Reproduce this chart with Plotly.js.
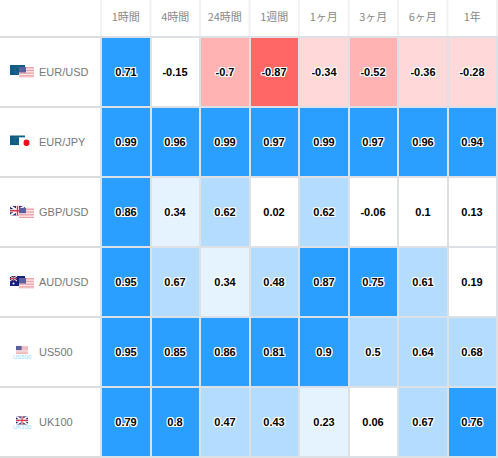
<!DOCTYPE html>
<html>
<head>
<meta charset="utf-8">
<script src="https://cdn.plot.ly/plotly-3.0.1.min.js"></script>
<style>html,body{margin:0;padding:0;background:#fff}#c{width:498px;height:458px}</style>
</head>
<body>
<div id="c"></div>
<script>
const periods = ['1時間','4時間','24時間','1週間','1ヶ月','3ヶ月','6ヶ月','1年'];
const instruments = ['EUR/USD','EUR/JPY','GBP/USD','AUD/USD','US500','UK100'];
const eurusd = [0.71,-0.15,-0.7,-0.87,-0.34,-0.52,-0.36,-0.28];
const eurjpy = [0.99,0.96,0.99,0.97,0.99,0.97,0.96,0.94];
const gbpusd = [0.86,0.34,0.62,0.02,0.62,-0.06,0.1,0.13];
const audusd = [0.95,0.67,0.34,0.48,0.87,0.75,0.61,0.19];
const us500 = [0.95,0.85,0.86,0.81,0.9,0.5,0.64,0.68];
const uk100 = [0.79,0.8,0.47,0.43,0.23,0.06,0.67,0.76];
const flagPairs = [['eu','us'],['eu','jp'],['gb','us'],['au','us'],['us'],['gb']];
const indexTags = ['','','','','US500','UK100'];

const W=498,H=458,L=100,T=36,PW=W-L,PH=H-T;
const stops=[[-1,'#ff6666'],[-0.75,'#ffb3b3'],[-0.4,'#ffd9d9'],[-0.2,'#ffffff'],[0.2,'#e5f3ff'],[0.4,'#b3dcff'],[0.7,'#2b9fff'],[1,'#2b9fff']];
const colorscale=[];
for(let i=0;i<stops.length-1;i++){
  colorscale.push([(stops[i][0]+1)/2,stops[i][1]]);
  colorscale.push([(stops[i+1][0]+1)/2,stops[i][1]]);
}

const usStripes=(x,y,w,h)=>{let s='';for(let i=0;i<7;i++){s+=`<rect x="${x}" y="${y+i*h/7}" width="${w}" height="${h/14}" fill="#e58a92"/>`;}return s;};
const flagSvg={
 eu:`<rect width="30" height="20" fill="#0d5c8c"/><circle cx="15" cy="10" r="6" fill="none" stroke="#6f8f3a" stroke-width="1.4" stroke-dasharray="1.4 1.6"/>`,
 us:`<rect width="30" height="20" fill="#fff"/>${usStripes(0,0,30,20)}<rect width="14" height="10" fill="#5b5f9c"/>`,
 jp:`<rect width="30" height="20" fill="#fff" stroke="#e3e3e3"/><circle cx="15" cy="10" r="6" fill="#f0101c"/>`,
 gb:`<rect width="30" height="20" fill="#2c2f78"/><path d="M0 0L30 20M30 0L0 20" stroke="#fff" stroke-width="4"/><path d="M15 0V20M0 10H30" stroke="#fff" stroke-width="6"/><path d="M15 0V20M0 10H30" stroke="#d8364a" stroke-width="3"/>`,
 au:`<rect width="30" height="20" fill="#15217c"/><rect width="14" height="10" fill="#2c2f78"/><path d="M0 0L14 10M14 0L0 10" stroke="#fff" stroke-width="2"/><path d="M7 0V10M0 5H14" stroke="#d8364a" stroke-width="2.4"/><circle cx="7" cy="15" r="2" fill="#fff"/><circle cx="22" cy="6" r="1.2" fill="#fff"/><circle cx="22" cy="15" r="1.2" fill="#fff"/>`
};
const uri=k=>'data:image/svg+xml;charset=utf-8,'+encodeURIComponent(`<svg xmlns="http://www.w3.org/2000/svg" width="30" height="20" viewBox="0 0 30 20">${flagSvg[k]}</svg>`);
const img=(k,px,py,w,h)=>({source:uri(k),xref:'paper',yref:'paper',x:(px-L)/PW,y:1-(py-T)/PH,sizex:w/PW,sizey:h/PH,xanchor:'left',yanchor:'top',sizing:'stretch',layer:'above'});

const rowH=PH/instruments.length;
const images=[];const annotations=[];const shapes=[];
instruments.forEach((name,i)=>{
  const top=T+i*rowH;
  annotations.push({text:name,xref:'paper',yref:'y',x:(37-L)/PW,y:name,xanchor:'left',yanchor:'middle',showarrow:false,font:{family:'Liberation Sans, Arial, sans-serif',size:11,color:'#777777'}});
  const fl=flagPairs[i];
  if(fl.length===2){
    images.push(img(fl[0],10,top+29,15,10));
    images.push(img(fl[1],19,top+31,15,11));
  }else{
    images.push(img(fl[0],16,top+28.5,12,8.5));
    annotations.push({text:indexTags[i],xref:'paper',yref:'paper',x:(22-L)/PW,y:1-(top+39.5-T)/PH,xanchor:'center',yanchor:'middle',showarrow:false,font:{family:'Liberation Sans, Arial, sans-serif',size:6,color:'#8fdcff'}});
  }
});
for(let i=0;i<=instruments.length;i++){
  shapes.push({type:'line',xref:'paper',yref:'y',x0:-L/PW,x1:0,y0:i-0.5,y1:i-0.5,line:{color:'#dcdcdc',width:2}});
}
for(let i=0;i<=periods.length;i++){
  shapes.push({type:'line',xref:'x',yref:'paper',x0:i-0.5,x1:i-0.5,y0:1,y1:H/PH,line:{color:'#f1f1f1',width:2}});
}

const z=[eurusd,eurjpy,gbpusd,audusd,us500,uk100];
Plotly.newPlot('c',[{
  type:'heatmap',
  x:periods,
  y:instruments,
  z:z,
  text:z.map(r=>r.map(String)),
  zmin:-1,zmax:1,
  colorscale:colorscale,
  showscale:false,
  xgap:2,ygap:2,
  texttemplate:'%{text}',
  textfont:{family:'Liberation Sans, Arial, sans-serif',size:11,color:'#000000',weight:700,shadow:'1px 0 0 #fff,-1px 0 0 #fff,0 1px 0 #fff,0 -1px 0 #fff,1px 1px 0 #fff,-1px -1px 0 #fff,1px -1px 0 #fff,-1px 1px 0 #fff'},
  hoverinfo:'skip'
}],{
  width:W,height:H,
  margin:{l:L,r:0,t:T,b:0,pad:0},
  paper_bgcolor:'#ffffff',
  plot_bgcolor:'#dde1e6',
  font:{family:'Liberation Sans, Arial, sans-serif'},
  xaxis:{type:'category',side:'top',showgrid:false,zeroline:false,showline:false,ticks:'outside',ticklen:10,tickcolor:'rgba(0,0,0,0)',tickfont:{family:'Noto Sans CJK JP, Liberation Sans, sans-serif',size:11,color:'#888888'},fixedrange:true},
  yaxis:{type:'category',autorange:'reversed',showgrid:false,zeroline:false,showline:false,showticklabels:false,ticks:'',fixedrange:true},
  images:images,annotations:annotations,shapes:shapes
},{displayModeBar:false,staticPlot:true});
</script>
</body>
</html>
